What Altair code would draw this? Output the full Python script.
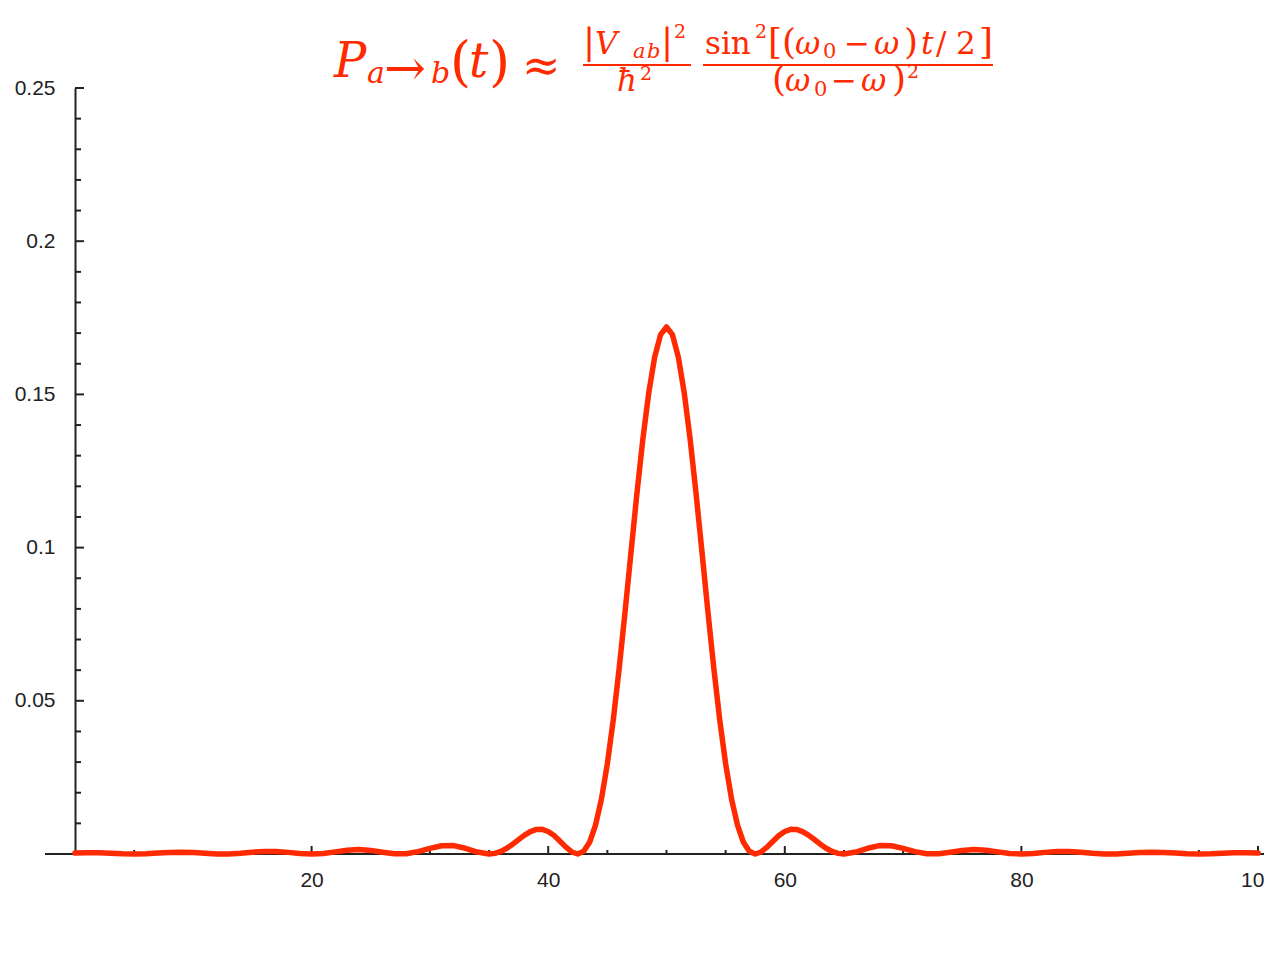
import altair as alt
import pandas as pd

# ---- data ----
x_t = [0, 1, 2, 3, 4, 5, 6, 7, 8, 9, 10, 11, 12, 13, 14, 15, 16, 17, 18, 19,
       20, 21, 22, 23, 24, 25, 26, 27, 28, 29, 30, 31, 32, 33, 34,
       35, 35.5, 36, 36.5, 37, 37.5, 38, 38.5, 39, 39.5, 40, 40.5, 41, 41.5, 42, 42.5,
       43, 43.5, 44, 44.5, 45, 45.5, 46, 46.5, 47, 47.5, 48, 48.5, 49, 49.5, 50,
       50.5, 51, 51.5, 52, 52.5, 53, 53.5, 54, 54.5, 55, 55.5, 56, 56.5, 57, 57.5,
       58, 58.5, 59, 59.5, 60, 60.5, 61, 61.5, 62, 62.5, 63, 63.5, 64, 64.5, 65,
       66, 67, 68, 69, 70, 71, 72, 73, 74, 75, 76, 77, 78, 79, 80, 81, 82, 83,
       84, 85, 86, 87, 88, 89, 90, 91, 92, 93, 94, 95, 96, 97, 98, 99, 100]

p_t = [0.00029, 0.00040, 0.00039, 0.00025, 0.00008, 0.0, 0.00008, 0.00029, 0.00050, 0.00058,
       0.00046, 0.00022, 0.00003, 0.00003, 0.00026, 0.00060, 0.00084, 0.00081, 0.00053, 0.00017,
       0.0, 0.00019, 0.00069, 0.00122, 0.00143, 0.00118, 0.00059, 0.00008, 0.00009, 0.00077,
       0.00184, 0.00269, 0.00274, 0.00187, 0.00063,
       0.0, 0.00020, 0.00083, 0.00186, 0.00320, 0.00471, 0.00616, 0.00733, 0.00801, 0.00804,
       0.00735, 0.00600, 0.00418, 0.00224, 0.00066, 0.0,
       0.00087, 0.00384, 0.00941, 0.01790, 0.02941, 0.04379, 0.06060, 0.07915, 0.09852, 0.11763,
       0.13534, 0.15052, 0.16218, 0.16950, 0.17200,
       0.16950, 0.16218, 0.15052, 0.13534, 0.11763, 0.09852, 0.07915, 0.06060, 0.04379, 0.02941,
       0.01790, 0.00941, 0.00384, 0.00087, 0.0,
       0.00066, 0.00224, 0.00418, 0.00600, 0.00735, 0.00804, 0.00801, 0.00733, 0.00616, 0.00471,
       0.00320, 0.00186, 0.00083, 0.00020, 0.0,
       0.00063, 0.00187, 0.00274, 0.00269, 0.00184, 0.00077, 0.00009, 0.00008, 0.00059, 0.00118,
       0.00143, 0.00122, 0.00069, 0.00019, 0.0, 0.00017, 0.00053, 0.00081,
       0.00084, 0.00060, 0.00026, 0.00003, 0.00003, 0.00022, 0.00046, 0.00058, 0.00050, 0.00029,
       0.00008, 0.0, 0.00008, 0.00025, 0.00039, 0.00040, 0.00029]

y_major = [0.05, 0.1, 0.15, 0.2, 0.25]
y_minor = [0.01, 0.02, 0.03, 0.04, 0.06, 0.07, 0.08, 0.09, 0.11, 0.12, 0.13, 0.14,
           0.16, 0.17, 0.18, 0.19, 0.21, 0.22, 0.23, 0.24]
x_major = [20, 40, 60, 80, 100]
x_minor = [5, 10, 15, 25, 30, 35, 45, 50, 55, 65, 70, 75, 85, 90, 95]

# ---- styling ----
W, H = 1183, 766
RED = "#ff2a00"
AX = "#222222"
SERIF = "DejaVu Serif"
SANS = "Liberation Sans"

xs = alt.Scale(domain=[0, 100], nice=False, zero=False)
ys = alt.Scale(domain=[0, 0.25], nice=False, zero=False)

x_axis = alt.Axis(values=x_major, ticks=False, domain=False, grid=False, title=None,
                  labelFont=SANS, labelFontSize=21, labelColor=AX, labelPadding=15,
                  labelFlush=False, labelOverlap=False, format="d")
y_axis = alt.Axis(values=y_major, ticks=False, domain=True, domainColor=AX, domainWidth=2,
                  grid=False, title=None, labelFont=SANS, labelFontSize=21, labelColor=AX,
                  labelPadding=20, labelFlush=False, labelOverlap=False, format=".2~f")

one = pd.DataFrame({"k": [0]})

x_axis_line = alt.Chart(one).mark_rule(color=AX, strokeWidth=2).encode(
    x=alt.value(-30), x2=alt.value(W + 20), y=alt.value(H)
)

ymin = alt.Chart(pd.DataFrame({"v": y_minor})).mark_rule(color=AX, strokeWidth=2).encode(
    y=alt.Y("v:Q", scale=ys, axis=y_axis), x=alt.value(0), x2=alt.value(6)
)
ymaj = alt.Chart(pd.DataFrame({"v": y_major})).mark_rule(color=AX, strokeWidth=2).encode(
    y=alt.Y("v:Q", scale=ys, axis=y_axis), x=alt.value(0), x2=alt.value(9)
)
xmin = alt.Chart(pd.DataFrame({"v": x_minor})).mark_rule(color=AX, strokeWidth=2).encode(
    x=alt.X("v:Q", scale=xs, axis=x_axis), y=alt.value(H), y2=alt.value(H - 4)
)
xmaj = alt.Chart(pd.DataFrame({"v": x_major})).mark_rule(color=AX, strokeWidth=2).encode(
    x=alt.X("v:Q", scale=xs, axis=x_axis), y=alt.value(H), y2=alt.value(H - 8)
)

curve = alt.Chart(pd.DataFrame({"v": x_t, "p": p_t})).mark_line(
    color=RED, strokeWidth=5.5, strokeJoin="round", strokeCap="round"
).encode(
    x=alt.X("v:Q", scale=xs, axis=x_axis),
    y=alt.Y("p:Q", scale=ys, axis=y_axis),
)

# ---- formula title (text pieces: text, x, baseline y, size, italic) ----
pieces = [
    ("P", 259, -11, 48, True),
    ("a", 292, -5, 30, True),
    ("→", 309, -3, 50, False),
    ("b", 356, -5, 30, True),
    ("(", 375, -8, 54, False),
    ("t", 394, -11, 48, True),
    (")", 414, -8, 54, False),
    ("≈", 447, -7, 46, False),
    # fraction 1
    ("|", 508, -34, 36, False),
    ("V", 520, -34, 31, True),
    ("a", 558, -30, 21, True),
    ("b", 572, -30, 21, True),
    ("|", 586, -34, 36, False),
    ("2", 599, -50, 19, False),
    ("ħ", 542, 3, 31, True),
    ("2", 565, -8, 19, False),
    # fraction 2 numerator
    ("sin", 630, -34, 31, False),
    ("2", 680, -50, 19, False),
    ("[", 693, -34, 36, False),
    ("(", 707, -34, 36, False),
    ("ω", 720, -34, 31, True),
    ("0", 748, -30, 21, False),
    ("−", 769, -34, 31, False),
    ("ω", 799, -34, 31, True),
    (")", 829, -34, 36, False),
    ("t", 846, -34, 31, True),
    ("/", 861, -34, 31, False),
    ("2", 881, -34, 31, False),
    ("]", 904, -34, 36, False),
    # fraction 2 denominator
    ("(", 697, 3, 36, False),
    ("ω", 710, 3, 31, True),
    ("0", 739, 8, 21, False),
    ("−", 756, 3, 31, False),
    ("ω", 786, 3, 31, True),
    (")", 817, 3, 36, False),
    ("2", 832, -10, 19, False),
]

layers = [x_axis_line, ymin, ymaj, xmin, xmaj, curve]

for txt, px, py, size, ital in pieces:
    kw = dict(text=txt, align="left", baseline="alphabetic", font=SERIF,
              fontSize=size, color=RED)
    if ital:
        kw["fontStyle"] = "italic"
    layers.append(alt.Chart(one).mark_text(**kw).encode(x=alt.value(px), y=alt.value(py)))

for x1, x2 in [(508, 616), (628, 918)]:
    layers.append(alt.Chart(one).mark_rule(color=RED, strokeWidth=2).encode(
        x=alt.value(x1), x2=alt.value(x2), y=alt.value(-23)))

chart = alt.layer(*layers).properties(
    width=W, height=H,
    padding={"left": 67, "top": 80, "right": 6, "bottom": 99},
    autosize=alt.AutoSizeParams(type="none"),
    background="white",
).configure_view(stroke=None)

chart.save("out.html", embed_options={"renderer": "svg", "actions": False})
